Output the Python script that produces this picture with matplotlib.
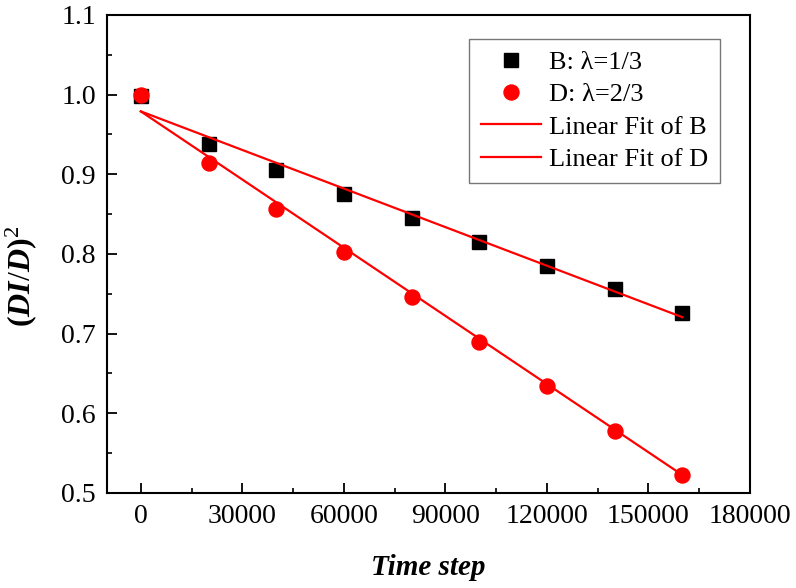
import numpy as np
import matplotlib
matplotlib.use("Agg")
import matplotlib.pyplot as plt
from matplotlib.ticker import MultipleLocator

plt.rcParams["font.family"] = ["Liberation Serif", "DejaVu Serif"]
plt.rcParams["mathtext.fontset"] = "custom"
plt.rcParams["mathtext.rm"] = "Liberation Serif"
plt.rcParams["mathtext.it"] = "Liberation Serif:italic:bold"
plt.rcParams["mathtext.bf"] = "Liberation Serif:bold"

# kroki czasowe i wartosci (D1/D)^2
steps = [0, 20000, 40000, 60000, 80000, 100000, 120000, 140000, 160000]
b_vals = [0.998, 0.938, 0.906, 0.875, 0.845, 0.815, 0.785, 0.756, 0.726]
d_vals = [1.000, 0.914, 0.857, 0.802, 0.746, 0.690, 0.634, 0.578, 0.523]

# proste dopasowania: wartosc na poczatku i na koncu
fit_x = [0, 160000]
fit_b = [0.979, 0.7207]
fit_d = [0.979, 0.5226]

fig = plt.figure(figsize=(7.96, 5.88), dpi=100)
ax = fig.add_axes([0.1344, 0.1616, 0.8078, 0.8129])

ax.plot(steps, b_vals, "s", color="black", ms=9.6, label="B: λ=1/3", zorder=3)
ax.plot(steps, d_vals, "o", color="red", ms=10.8, label="D: λ=2/3", zorder=4)
ax.plot(fit_x, fit_b, "-", color="red", lw=1.6, label="Linear Fit of B", zorder=5)
ax.plot(fit_x, fit_d, "-", color="red", lw=1.6, label="Linear Fit of D", zorder=5)

ax.set_xlim(-10000, 180000)
ax.set_ylim(0.5, 1.1)
ax.xaxis.set_minor_locator(MultipleLocator(15000))
ax.yaxis.set_major_locator(MultipleLocator(0.1))
ax.yaxis.set_minor_locator(MultipleLocator(0.05))
ax.set_xticks([0, 30000, 60000, 90000, 120000, 150000, 180000])
ax.set_xticklabels(["0", "30000", "60000", "90000", "120000", "150000", "180000"])

ax.tick_params(which="major", direction="in", length=7, width=1.3,
               labelsize=20, pad=8)
ax.tick_params(which="minor", direction="in", length=3.5, width=1.2)
for s in ax.spines.values():
    s.set_linewidth(1.5)

ax.set_xlabel("Time step", fontsize=21, fontweight="bold", fontstyle="italic",
              labelpad=18)
ax.set_ylabel(r"$\mathbf{(}\mathit{DI/D}\mathbf{)}^{2}$", fontsize=23)
ax.yaxis.set_label_coords(-0.105, 0.452)

leg = ax.legend(loc="upper right", bbox_to_anchor=(0.953, 0.95), fontsize=19,
                frameon=True, fancybox=False, edgecolor="#555555",
                handlelength=2.3, handletextpad=0.28, borderpad=0.45,
                labelspacing=0.33, borderaxespad=0, numpoints=1)
leg.get_frame().set_linewidth(1.0)

fig.savefig("out.png", dpi=100)
